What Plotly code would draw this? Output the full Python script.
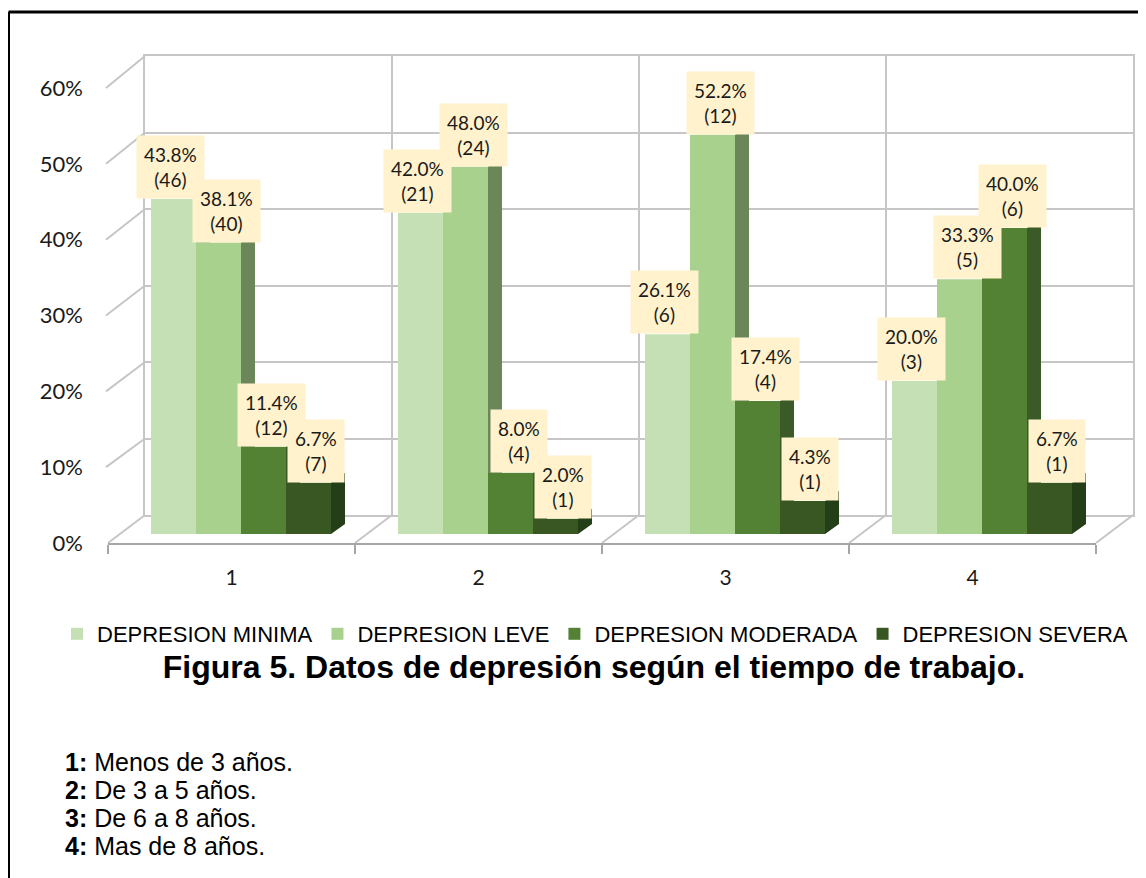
import plotly.graph_objects as go

# ---------------- data ----------------
categories = ["1", "2", "3", "4"]
series_names = ["DEPRESION MINIMA", "DEPRESION LEVE", "DEPRESION MODERADA", "DEPRESION SEVERA"]
minima_pct = [43.8, 42.0, 26.1, 20.0]
minima_n = [46, 21, 6, 3]
leve_pct = [38.1, 48.0, 52.2, 33.3]
leve_n = [40, 24, 12, 5]
moderada_pct = [11.4, 8.0, 17.4, 40.0]
moderada_n = [12, 4, 4, 6]
severa_pct = [6.7, 2.0, 4.3, 6.7]
severa_n = [7, 1, 1, 1]
y_ticks = [0, 10, 20, 30, 40, 50, 60]
y_ticktext = ["0%", "10%", "20%", "30%", "40%", "50%", "60%"]
title_text = "Figura 5. Datos de depresión según el tiempo de trabajo."
note_keys = ["1:", "2:", "3:", "4:"]
note_texts = ["Menos de 3 años.", "De 3 a 5 años.", "De 6 a 8 años.", "Mas de 8 años."]

# ---------------- style ----------------
W, H = 1146, 878
OX, OY = 8, 8            # page offset of the plot div (body margin)
front_colors = ["#c5e0b4", "#a9d18e", "#548235", "#385723"]
side_colors = ["#93a887", "#6b875a", "#3a5a27", "#243f17"]
grid_color = "#c6c6c6"
floor_color = "#a6a6a6"
label_bg = "#fff2cc"
legend_font = "Liberation Sans Narrow, Arial Narrow, Liberation Sans, Arial, sans-serif"
label_font = "Lato, Open Sans, sans-serif"
arial = "Liberation Sans, Arial, sans-serif"
label_xshift = [-3, 8, 8, 7]   # pixel nudges of the data-label boxes per series


def fx(p):
    return (p - OX) / W


def fy(p):
    return 1 - (p - OY) / H


# pixel geometry of the pseudo-3D frame (page pixels)
back_x = (145, 1133)
back_y = (515, 56)
bar_x = (117.5, 1105.5)
bar_y = (534, 75)
front_x = (108, 1096)
front_y = (543, 88)
ymax = y_ticks[-1]

bar_w = 0.1822          # width of each bar, in category units
offsets = [-2 * bar_w, -bar_w, 0.0, bar_w]
side_dx = 14 / ((bar_x[1] - bar_x[0]) / 4)
side_dy = 10 / ((bar_y[0] - bar_y[1]) / ymax)

pct = [minima_pct, leve_pct, moderada_pct, severa_pct]
cnt = [minima_n, leve_n, moderada_n, severa_n]
xpos = list(range(len(categories)))
nb = len(categories)

fig = go.Figure()

# invisible trace so the back-wall subplot is created
fig.add_trace(go.Scatter(x=[0, nb], y=[0, ymax], xaxis="x", yaxis="y", mode="markers",
                         marker=dict(opacity=0), showlegend=False, hoverinfo="skip"))

# side faces (subplot x2/y2, drawn below the fronts)
for i, vals in enumerate(pct):
    xs, ys = [], []
    for j, v in zip(xpos, vals):
        xr = j + offsets[i] + bar_w
        xs += [xr, xr + side_dx, xr + side_dx, xr, xr, None]
        ys += [0, side_dy, v + side_dy, v, 0, None]
    fig.add_trace(go.Scatter(
        x=xs, y=ys, xaxis="x2", yaxis="y2", mode="lines", fill="toself",
        fillcolor=side_colors[i], line=dict(width=0, color=side_colors[i]),
        showlegend=False, hoverinfo="skip"))

# front faces (subplot x3/y3)
for i, vals in enumerate(pct):
    fig.add_trace(go.Bar(
        x=xpos, y=vals, name=series_names[i], xaxis="x3", yaxis="y3",
        offset=offsets[i], width=bar_w, marker=dict(color=front_colors[i], line=dict(width=0))))

# dummy trace to carry the category axis
fig.add_trace(go.Scatter(x=categories, y=[0] * nb, xaxis="x4", yaxis="y4",
                         mode="markers", marker=dict(opacity=0), showlegend=False, hoverinfo="skip"))

# data labels
annotations = []
for i, vals in enumerate(pct):
    for j, v, n in zip(xpos, vals, cnt[i]):
        annotations.append(dict(
            x=j + offsets[i] + bar_w / 2, y=v, xref="x3", yref="y3", xshift=label_xshift[i],
            text=f"{v:.1f}%<br>({n})", showarrow=False, xanchor="center", yanchor="bottom",
            bgcolor=label_bg, borderpad=7,
            font=dict(family=label_font, size=19, color="#1a1a1a")))

# notes
for k, (key, txt) in enumerate(zip(note_keys, note_texts)):
    annotations.append(dict(
        x=fx(63), y=fy(762 + 28 * k), xref="paper", yref="paper", xanchor="left", yanchor="middle",
        text=f"<b>{key}</b> {txt}", showarrow=False, font=dict(family=arial, size=25, color="black")))

# frame shapes
shapes = []
for k in range(nb + 1):
    xb = back_x[0] + (back_x[1] - back_x[0]) * k / nb
    xf = front_x[0] + (front_x[1] - front_x[0]) * k / nb
    shapes.append(dict(type="line", xref="paper", yref="paper", layer="below",
                       x0=fx(xb), y0=fy(back_y[0]), x1=fx(xf), y1=fy(front_y[0]),
                       line=dict(color=grid_color, width=2)))
for t in y_ticks[1:]:
    yb = back_y[0] + (back_y[1] - back_y[0]) * t / ymax
    yf = front_y[0] + (front_y[1] - front_y[0]) * t / ymax
    shapes.append(dict(type="line", xref="paper", yref="paper", layer="below",
                       x0=fx(back_x[0]), y0=fy(yb), x1=fx(front_x[0] - 2), y1=fy(yf),
                       line=dict(color=grid_color, width=2)))
# outer border of the figure box
shapes.append(dict(type="line", xref="paper", yref="paper", x0=fx(8.5), y0=fy(12), x1=1, y1=fy(12),
                   line=dict(color="black", width=3)))
shapes.append(dict(type="line", xref="paper", yref="paper", x0=fx(8.5), y0=fy(12), x1=fx(8.5), y1=0,
                   line=dict(color="black", width=3)))

hidden = dict(visible=False)
fig.update_layout(
    width=W, height=H, autosize=False,
    margin=dict(l=0, r=0, t=0, b=0, pad=0, autoexpand=False),
    paper_bgcolor="white", plot_bgcolor="rgba(0,0,0,0)",
    barmode="overlay",
    xaxis=dict(domain=[fx(back_x[0]), fx(back_x[1])], range=[0, nb], tickvals=list(range(nb + 1)),
               showgrid=True, gridcolor=grid_color, gridwidth=2, showticklabels=False, ticks="",
               showline=True, mirror=True, linecolor=grid_color, linewidth=2, zeroline=False,
               anchor="y", fixedrange=True),
    yaxis=dict(domain=[fy(back_y[0]), fy(back_y[1])], range=[0, ymax], tickvals=y_ticks,
               showgrid=True, gridcolor=grid_color, gridwidth=2, showticklabels=False, ticks="",
               showline=True, mirror=True, linecolor=grid_color, linewidth=2, zeroline=False,
               anchor="x", fixedrange=True),
    xaxis2=dict(domain=[fx(bar_x[0]), fx(bar_x[1])], range=[-0.5, nb - 0.5], anchor="y2", **hidden),
    yaxis2=dict(domain=[fy(bar_y[0]), fy(bar_y[1])], range=[0, ymax], anchor="x2", **hidden),
    xaxis3=dict(domain=[fx(bar_x[0]), fx(bar_x[1])], range=[-0.5, nb - 0.5], anchor="y3", **hidden),
    yaxis3=dict(domain=[fy(bar_y[0]), fy(bar_y[1])], range=[0, ymax], anchor="x3", **hidden),
    xaxis4=dict(domain=[fx(front_x[0]), fx(front_x[1])], type="category", categoryarray=categories,
                range=[-0.5, nb - 0.5], tickson="boundaries", ticks="outside", ticklen=9,
                tickcolor=floor_color, tickwidth=2, showline=True, linecolor=floor_color, linewidth=2,
                showgrid=False, zeroline=False, anchor="y4", ticklabelstandoff=15,
                tickfont=dict(family=label_font, size=21, color="#1a1a1a")),
    yaxis4=dict(domain=[fy(front_y[0]), fy(front_y[1])], range=[0, ymax], tickvals=y_ticks,
                ticktext=y_ticktext, showgrid=False, showline=False, zeroline=False, ticks="",
                anchor="x4", ticklabelstandoff=24,
                tickfont=dict(family=label_font, size=22, color="#1a1a1a")),
    legend=dict(orientation="h", x=fx(57), xanchor="left", y=fy(634), yanchor="middle",
                font=dict(family=legend_font, size=22, color="black"), itemwidth=30,
                bgcolor="rgba(0,0,0,0)"),
    title=dict(text=f"<b>{title_text}</b>", x=fx(594), xanchor="center", y=fy(667), yanchor="middle",
               xref="paper", yref="paper", font=dict(family=arial, size=32, color="black")),
    annotations=annotations,
    shapes=shapes,
    showlegend=True,
)

fig.write_html("out.html")
